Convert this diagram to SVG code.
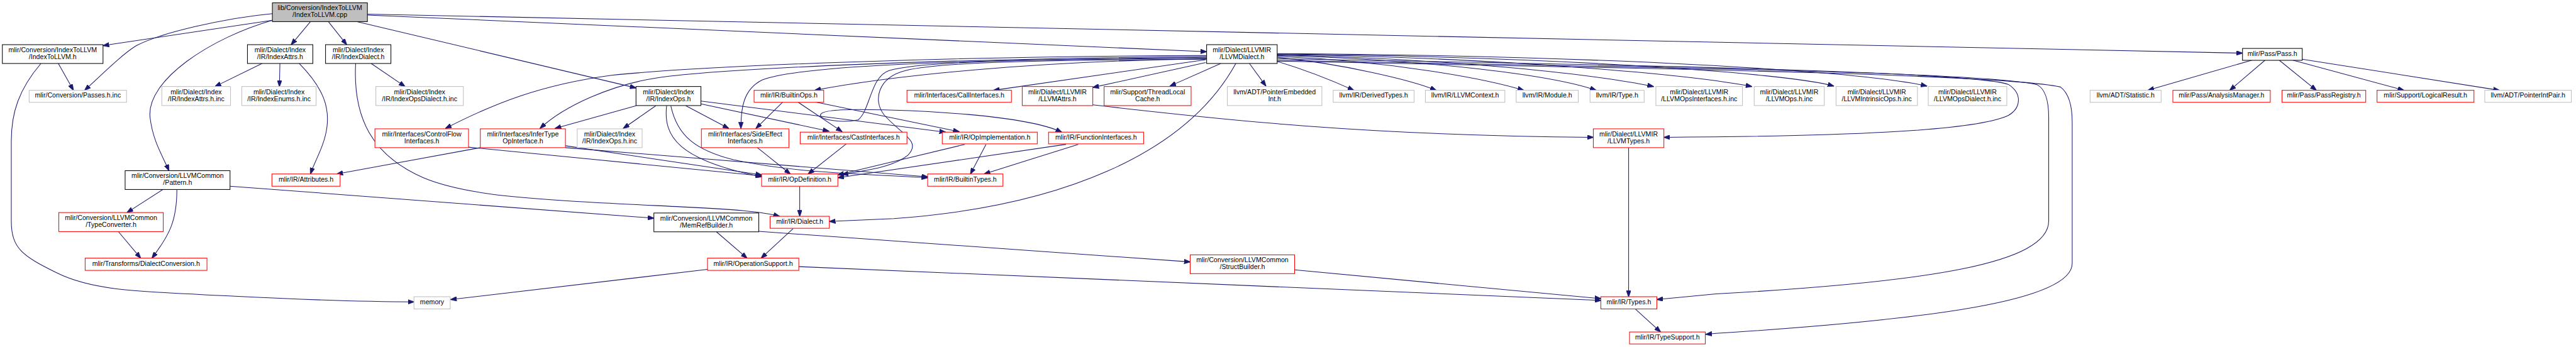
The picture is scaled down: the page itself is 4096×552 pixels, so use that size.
<svg xmlns="http://www.w3.org/2000/svg" width="4096" height="552" viewBox="0 0 4096 552">
<style>
.n rect{fill:#fff;stroke-width:1.4}
.b rect{stroke:#000}
.r rect{stroke:#ff0000}
.g rect{stroke:#bfbfbf}
.root rect{fill:#bfbfbf;stroke:#000}
text{font-family:"Liberation Sans",Arial,Helvetica,sans-serif;font-size:14.2px;text-anchor:middle;fill:#000}
#edges path{fill:none;stroke:#191970;stroke-width:1.4;marker-end:url(#a)}
</style>
<defs>
<marker id="a" markerUnits="userSpaceOnUse" viewBox="0 0 14 10" refX="13" refY="5" markerWidth="14" markerHeight="10" orient="auto">
<path d="M0,0 L14,5 L0,10 z" fill="#191970" stroke="#191970"/>
</marker>
</defs>
<rect width="4096" height="552" fill="#fff"/>
<g transform="scale(0.748)">
<g id="edges">
<path d="M579,43 L219,97"/>
<path d="M579,29 C480,38 340,70 290,97 C260,115 215,160 180,192"/>
<path d="M579,43 C450,80 310,170 319,250 C325,300 345,330 359,363"/>
<path d="M660,46 L619,95"/>
<path d="M698,46 L737,95"/>
<path d="M759,46 L1352,187"/>
<path d="M781,32 L2565,110"/>
<path d="M781,30 L4767,113"/>
<path d="M124,135 L156,192"/>
<path d="M87,135 C40,190 24,240 24,300 L24,470 C24,530 50,545 120,580 C200,620 300,620 500,630 C700,640 800,642 880,642"/>
<path d="M557,135 L457,184"/>
<path d="M595,135 L594,184"/>
<path d="M636,135 C690,190 700,230 695,270 C690,310 670,340 660,370"/>
<path d="M789,135 L861,184"/>
<path d="M756,135 C750,250 790,330 900,378 C1000,420 1150,425 1450,440 C1560,445 1620,450 1657,460"/>
<path d="M346,403 L270,452"/>
<path d="M376,403 C376,470 360,500 323,549"/>
<path d="M252,493 L299,549"/>
<path d="M489,396 L1390,464"/>
<path d="M1523,493 L1588,549"/>
<path d="M1686,486 L1618,549"/>
<path d="M1700,396 L1700,460"/>
<path d="M1613,492 L2530,557"/>
<path d="M1504,573 L958,637"/>
<path d="M1698,567 L3403,639"/>
<path d="M2752,574 L3403,635"/>
<path d="M3462,314 L3462,631"/>
<path d="M3476,657 L3530,706"/>
<path d="M2715,128 C3300,140 4200,150 4330,180 C4350,190 4355,220 4355,250 L4355,470 C4355,560 4100,600 3648,625 L3522,637"/>
<path d="M2715,130 C3300,142 4250,155 4380,185 C4400,200 4405,230 4405,260 L4405,560 C4405,640 4100,680 3648,709 L3626,711"/>
<path d="M2715,125 C3300,135 4200,150 4270,180 C4300,200 4295,230 4270,245 C4200,280 3900,290 3537,292"/>
<path d="M2323,223 C2600,255 2900,288 3387,292"/>
<path d="M2713,130 C2780,150 2840,175 2878,192"/>
<path d="M2715,122 C2850,135 3000,170 3053,192"/>
<path d="M2715,120 C2950,130 3150,165 3239,192"/>
<path d="M2715,118 C3050,128 3300,160 3393,192"/>
<path d="M2715,117 C3100,125 3400,160 3515,184"/>
<path d="M2715,116 C3200,122 3600,160 3724,184"/>
<path d="M2715,115 C3300,120 3800,155 3898,183"/>
<path d="M2715,114 C3400,118 3950,150 4096,183"/>
<path d="M2656,135 L2691,183"/>
<path d="M2595,135 L2487,183"/>
<path d="M2563,133 L2323,186"/>
<path d="M2563,127 L2112,192"/>
<path d="M2627,135 C2520,330 2250,440 1900,465 L1763,471"/>
<path d="M2565,122 C2000,128 1700,140 1620,170 C1580,190 1575,230 1575,273"/>
<path d="M2565,125 C2200,130 1900,160 1732,192"/>
<path d="M2565,118 C2000,120 1500,140 1300,160 C1150,180 1050,220 947,273"/>
<path d="M2565,120 C2000,125 1550,145 1400,165 C1300,180 1200,225 1148,273"/>
<path d="M2565,124 C2150,126 1950,132 1890,150 C1850,163 1850,235 1824,255 C1790,262 1744,255 1744,245 C1744,236 1780,233 1824,233 C1950,233 2180,245 2257,281"/>
<path d="M2565,126 C2200,128 2000,132 1925,150 C1865,165 1855,215 1880,245 C1915,285 1960,300 1930,330 C1900,355 1840,363 1790,371"/>
<path d="M1352,225 L1180,273"/>
<path d="M1394,225 L1325,273"/>
<path d="M1458,225 L1549,273"/>
<path d="M1490,221 L1762,279"/>
<path d="M1490,215 L2010,281"/>
<path d="M1733,217 L2039,280"/>
<path d="M1417,225 C1410,290 1440,340 1619,376"/>
<path d="M1426,225 C1440,290 1480,320 1560,340 C1700,370 1850,370 1972,378"/>
<path d="M1664,217 L1607,273"/>
<path d="M1696,217 L1790,280"/>
<path d="M996,313 L1619,374"/>
<path d="M1021,314 L716,370"/>
<path d="M1202,314 L1972,376"/>
<path d="M1202,310 L1619,372"/>
<path d="M1610,314 L1680,370"/>
<path d="M1799,306 L1718,370"/>
<path d="M2051,307 L1781,372"/>
<path d="M2266,307 L1781,378"/>
<path d="M2096,307 L2063,370"/>
<path d="M2292,307 L2092,370"/>
<path d="M4787,128 L4566,192"/>
<path d="M4815,128 L4740,192"/>
<path d="M4845,128 L4924,192"/>
<path d="M4874,128 L5110,192"/>
<path d="M4894,126 L5313,192"/>
</g>
<g id="n0" class="n root"><rect x="579" y="6" width="202" height="40"/><text x="680" y="21.7">lib/Conversion/IndexToLLVM</text><text x="680" y="36.7">/IndexToLLVM.cpp</text></g>
<g id="n1" class="n b"><rect x="5" y="95" width="214" height="40"/><text x="112" y="110.7">mlir/Conversion/IndexToLLVM</text><text x="112" y="125.7">/IndexToLLVM.h</text></g>
<g id="n2" class="n g"><rect x="62" y="192" width="207" height="25.6"/><text x="165.5" y="207.8">mlir/Conversion/Passes.h.inc</text></g>
<g id="n3" class="n b"><rect x="526" y="95" width="139" height="40"/><text x="595.5" y="110.7">mlir/Dialect/Index</text><text x="595.5" y="125.7">/IR/IndexAttrs.h</text></g>
<g id="n4" class="n b"><rect x="692" y="95" width="139" height="40"/><text x="761.5" y="110.7">mlir/Dialect/Index</text><text x="761.5" y="125.7">/IR/IndexDialect.h</text></g>
<g id="n5" class="n g"><rect x="344" y="184" width="146" height="40.5"/><text x="417" y="200">mlir/Dialect/Index</text><text x="417" y="215">/IR/IndexAttrs.h.inc</text></g>
<g id="n6" class="n g"><rect x="514" y="184" width="158" height="40.5"/><text x="593" y="200">mlir/Dialect/Index</text><text x="593" y="215">/IR/IndexEnums.h.inc</text></g>
<g id="n7" class="n g"><rect x="799" y="184" width="186" height="40.5"/><text x="892" y="200">mlir/Dialect/Index</text><text x="892" y="215">/IR/IndexOpsDialect.h.inc</text></g>
<g id="n8" class="n r"><rect x="797" y="274" width="199" height="40"/><text x="896.5" y="289.7">mlir/Interfaces/ControlFlow</text><text x="896.5" y="304.7">Interfaces.h</text></g>
<g id="n9" class="n b"><rect x="266" y="363" width="223" height="40"/><text x="377.5" y="378.7">mlir/Conversion/LLVMCommon</text><text x="377.5" y="393.7">/Pattern.h</text></g>
<g id="n10" class="n r"><rect x="578" y="370" width="145" height="26"/><text x="650.5" y="386">mlir/IR/Attributes.h</text></g>
<g id="n11" class="n r"><rect x="125" y="452" width="222" height="40.5"/><text x="236" y="468">mlir/Conversion/LLVMCommon</text><text x="236" y="483">/TypeConverter.h</text></g>
<g id="n12" class="n r"><rect x="181" y="549" width="259" height="26"/><text x="310.5" y="565">mlir/Transforms/DialectConversion.h</text></g>
<g id="n13" class="n g"><rect x="880" y="631" width="77" height="26"/><text x="918.5" y="647">memory</text></g>
<g id="n14" class="n b"><rect x="1352" y="184" width="138" height="40.5"/><text x="1421" y="200">mlir/Dialect/Index</text><text x="1421" y="215">/IR/IndexOps.h</text></g>
<g id="n15" class="n r"><rect x="1603" y="192" width="148" height="25.6"/><text x="1677" y="207.8">mlir/IR/BuiltinOps.h</text></g>
<g id="n16" class="n r"><rect x="1021" y="274" width="181" height="40"/><text x="1111.5" y="289.7">mlir/Interfaces/InferType</text><text x="1111.5" y="304.7">OpInterface.h</text></g>
<g id="n17" class="n g"><rect x="1227" y="274" width="138" height="40"/><text x="1296" y="289.7">mlir/Dialect/Index</text><text x="1296" y="304.7">/IR/IndexOps.h.inc</text></g>
<g id="n18" class="n r"><rect x="1491" y="274" width="186" height="40"/><text x="1584" y="289.7">mlir/Interfaces/SideEffect</text><text x="1584" y="304.7">Interfaces.h</text></g>
<g id="n19" class="n r"><rect x="1701" y="281" width="227" height="25"/><text x="1814.5" y="297">mlir/Interfaces/CastInterfaces.h</text></g>
<g id="n20" class="n r"><rect x="1619" y="370" width="162" height="26"/><text x="1700" y="386">mlir/IR/OpDefinition.h</text></g>
<g id="n21" class="n b"><rect x="1390" y="453" width="223" height="40"/><text x="1501.5" y="468.7">mlir/Conversion/LLVMCommon</text><text x="1501.5" y="483.7">/MemRefBuilder.h</text></g>
<g id="n22" class="n r"><rect x="1637" y="460" width="126" height="25.5"/><text x="1700" y="476">mlir/IR/Dialect.h</text></g>
<g id="n23" class="n r"><rect x="1504" y="549" width="194" height="26"/><text x="1601" y="565">mlir/IR/OperationSupport.h</text></g>
<g id="n24" class="n b"><rect x="2565" y="95" width="150" height="40"/><text x="2640" y="110.7">mlir/Dialect/LLVMIR</text><text x="2640" y="125.7">/LLVMDialect.h</text></g>
<g id="n25" class="n r"><rect x="1928" y="192" width="222" height="25.6"/><text x="2039" y="207.8">mlir/Interfaces/CallInterfaces.h</text></g>
<g id="n26" class="n r"><rect x="2173" y="184" width="150" height="40.5"/><text x="2248" y="200">mlir/Dialect/LLVMIR</text><text x="2248" y="215">/LLVMAttrs.h</text></g>
<g id="n27" class="n r"><rect x="2347" y="184" width="185" height="40.5"/><text x="2439.5" y="200">mlir/Support/ThreadLocal</text><text x="2439.5" y="215">Cache.h</text></g>
<g id="n28" class="n g"><rect x="2609" y="184" width="201" height="40.5"/><text x="2709.5" y="200">llvm/ADT/PointerEmbedded</text><text x="2709.5" y="215">Int.h</text></g>
<g id="n29" class="n r"><rect x="2003" y="281" width="202" height="25"/><text x="2104" y="297">mlir/IR/OpImplementation.h</text></g>
<g id="n30" class="n r"><rect x="2229" y="281" width="202" height="25"/><text x="2330" y="297">mlir/IR/FunctionInterfaces.h</text></g>
<g id="n31" class="n r"><rect x="1972" y="370" width="160" height="26"/><text x="2052" y="386">mlir/IR/BuiltinTypes.h</text></g>
<g id="n32" class="n r"><rect x="2530" y="542" width="222" height="40"/><text x="2641" y="557.7">mlir/Conversion/LLVMCommon</text><text x="2641" y="572.7">/StructBuilder.h</text></g>
<g id="n33" class="n g"><rect x="2834" y="192" width="172" height="25.6"/><text x="2920" y="207.8">llvm/IR/DerivedTypes.h</text></g>
<g id="n34" class="n g"><rect x="3030" y="192" width="169" height="25.6"/><text x="3114.5" y="207.8">llvm/IR/LLVMContext.h</text></g>
<g id="n35" class="n g"><rect x="3223" y="192" width="132" height="25.6"/><text x="3289" y="207.8">llvm/IR/Module.h</text></g>
<g id="n36" class="n g"><rect x="3380" y="192" width="115" height="25.6"/><text x="3437.5" y="207.8">llvm/IR/Type.h</text></g>
<g id="n37" class="n g"><rect x="3520" y="184" width="184" height="40.5"/><text x="3612" y="200">mlir/Dialect/LLVMIR</text><text x="3612" y="215">/LLVMOpsInterfaces.h.inc</text></g>
<g id="n38" class="n r"><rect x="3387" y="274" width="150" height="40"/><text x="3462" y="289.7">mlir/Dialect/LLVMIR</text><text x="3462" y="304.7">/LLVMTypes.h</text></g>
<g id="n39" class="n r"><rect x="3403" y="631" width="119" height="26"/><text x="3462.5" y="647">mlir/IR/Types.h</text></g>
<g id="n40" class="n r"><rect x="3464" y="706" width="161" height="25.5"/><text x="3544.5" y="722">mlir/IR/TypeSupport.h</text></g>
<g id="n41" class="n g"><rect x="3729" y="184" width="149" height="40.5"/><text x="3803.5" y="200">mlir/Dialect/LLVMIR</text><text x="3803.5" y="215">/LLVMOps.h.inc</text></g>
<g id="n42" class="n g"><rect x="3903" y="184" width="173" height="40.5"/><text x="3989.5" y="200">mlir/Dialect/LLVMIR</text><text x="3989.5" y="215">/LLVMIntrinsicOps.h.inc</text></g>
<g id="n43" class="n g"><rect x="4099" y="184" width="167" height="40.5"/><text x="4182.5" y="200">mlir/Dialect/LLVMIR</text><text x="4182.5" y="215">/LLVMOpsDialect.h.inc</text></g>
<g id="n44" class="n g"><rect x="4443" y="192" width="151" height="25.6"/><text x="4518.5" y="207.8">llvm/ADT/Statistic.h</text></g>
<g id="n45" class="n b"><rect x="4767" y="103" width="127" height="25.3"/><text x="4830.5" y="119">mlir/Pass/Pass.h</text></g>
<g id="n46" class="n r"><rect x="4619" y="192" width="207" height="25.6"/><text x="4722.5" y="207.8">mlir/Pass/AnalysisManager.h</text></g>
<g id="n47" class="n r"><rect x="4851" y="192" width="178" height="25.6"/><text x="4940" y="207.8">mlir/Pass/PassRegistry.h</text></g>
<g id="n48" class="n r"><rect x="5053" y="192" width="206" height="25.6"/><text x="5156" y="207.8">mlir/Support/LogicalResult.h</text></g>
<g id="n49" class="n g"><rect x="5282" y="192" width="184" height="25.6"/><text x="5374" y="207.8">llvm/ADT/PointerIntPair.h</text></g>
</g>
</svg>
